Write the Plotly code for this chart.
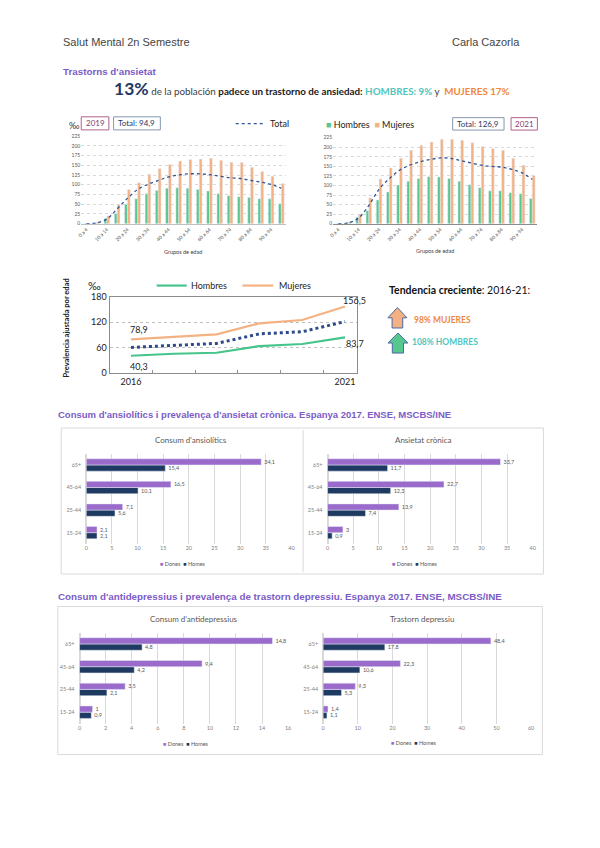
import plotly.graph_objects as go

W, H = 600, 848
# the photographed page is slightly shrunk around its centre; compensate so that
# positions measured on the reference land where they were measured
AX, BX, AY, BY = 0.9855, 4.55, 0.984, 7.0
def px(x): return ((x - BX) / AX) / W
def py(y): return 1 - ((y - BY) / AY) / H
def dom_x(a, b): return [px(a), px(b)]
def dom_y(top, bottom): return [py(bottom), py(top)]

# ---------------- DATA ----------------
age_groups = ["0 a 4", "5 a 9", "10 a 14", "15 a 19", "20 a 24", "25 a 29", "30 a 34",
              "35 a 39", "40 a 44", "45 a 49", "50 a 54", "55 a 59", "60 a 64", "65 a 69",
              "70 a 74", "75 a 79", "80 a 84", "85 a 89", "90 a 94", "95 y más"]
age_tick_labels = age_groups[::2]

hombres_2019 = [0.5, 2, 13, 26, 50, 64, 77, 85, 91, 92, 91, 88, 84, 77, 72, 69, 67, 64, 64, 51]
mujeres_2019 = [0.5, 4, 20, 50, 88, 105, 127, 142, 152, 161, 165, 166, 168, 163, 158, 157, 145, 134, 122, 103]
total_2019 = [0, 2, 12, 38, 65, 88, 101, 111, 120, 125, 128, 128, 126, 122, 118, 116, 111, 107, 101, 91]

hombres_2021 = [0.5, 3, 17, 34, 62, 83, 101, 111, 118, 123, 122, 118, 111, 102, 94, 86, 86, 81, 78, 66]
mujeres_2021 = [0.5, 5, 25, 68, 117, 146, 171, 192, 205, 214, 221, 221, 218, 212, 202, 197, 192, 171, 153, 126]
total_2021 = [0, 2, 15, 48, 90, 118, 140, 153, 162, 168, 172, 171, 165, 159, 153, 150, 148, 142, 133, 116]

years = [2016, 2017, 2018, 2019, 2020, 2021]
hombres_trend = [40.3, 45, 47.4, 63, 68, 83.7]
mujeres_trend = [78.9, 85, 90.8, 116.8, 124.7, 156.5]
total_trend = [60, 65.5, 69.5, 92, 97, 121]

ages_b = ["15-24", "25-44", "45-64", "65+"]
ansio_dones = [2.1, 7.1, 16.5, 34.1]
ansio_homes = [2.1, 5.6, 10.1, 15.4]
ansietat_dones = [3, 13.9, 22.7, 33.7]
ansietat_homes = [0.9, 7.4, 12.3, 11.7]
antidep_dones = [1, 3.5, 9.4, 14.8]
antidep_homes = [0.9, 2.1, 4.2, 4.8]
depre_dones = [1.4, 9.3, 22.3, 48.4]
depre_homes = [1.1, 5.3, 10.6, 17.8]

def fmt(v):
    if float(v).is_integer():
        return str(int(v))
    return f"{v:.1f}".replace(".", ",")

# ---------------- STYLE ----------------
GREEN = "#57c68f"
ORANGE = "#f4b183"
NAVY = "#2f5597"
DONES = "#9b6bcc"
HOMES = "#1f3a60"
PURPLE_T = "#7b5cc6"
GRID = "#d9d9d9"
FONT = "Lato"

fig = go.Figure()

# ---------------- TOP BAR CHARTS ----------------
top = [
    (hombres_2019, mujeres_2019, total_2019, "x", "y"),
    (hombres_2021, mujeres_2021, total_2021, "x2", "y2"),
]
for h, m, t, xa, ya in top:
    fig.add_trace(go.Bar(x=age_groups, y=h, marker_color=GREEN, xaxis=xa, yaxis=ya,
                         showlegend=False, name="Hombres"))
    fig.add_trace(go.Bar(x=age_groups, y=m, marker_color=ORANGE, xaxis=xa, yaxis=ya,
                         showlegend=False, name="Mujeres"))
    fig.add_trace(go.Scatter(x=age_groups, y=t, mode="lines", xaxis=xa, yaxis=ya,
                             line=dict(color=NAVY, dash="dot", width=1.3, shape="spline"),
                             showlegend=False, name="Total"))

# ---------------- TREND LINE CHART ----------------
fig.add_trace(go.Scatter(x=years, y=mujeres_trend, mode="lines", xaxis="x3", yaxis="y3",
                         line=dict(color=ORANGE, width=2.2), showlegend=False))
fig.add_trace(go.Scatter(x=years, y=total_trend, mode="lines", xaxis="x3", yaxis="y3",
                         line=dict(color="#2e4a8c", width=3, dash="dot"), showlegend=False))
fig.add_trace(go.Scatter(x=years, y=hombres_trend, mode="lines", xaxis="x3", yaxis="y3",
                         line=dict(color="#45c48c", width=2.2), showlegend=False))

# ---------------- HORIZONTAL BAR CHARTS ----------------
hb = [
    (ansio_homes, ansio_dones, "x4", "y4"),
    (ansietat_homes, ansietat_dones, "x5", "y5"),
    (antidep_homes, antidep_dones, "x6", "y6"),
    (depre_homes, depre_dones, "x7", "y7"),
]
for hm, dn, xa, ya in hb:
    for vals, col, nm in [(hm, HOMES, "Homes"), (dn, DONES, "Dones")]:
        fig.add_trace(go.Bar(y=ages_b, x=vals, orientation="h", marker_color=col,
                             xaxis=xa, yaxis=ya, name=nm, showlegend=False,
                             text=[fmt(v) for v in vals], textposition="outside",
                             constraintext="none", cliponaxis=False,
                             textfont=dict(size=5.5, color="#595959", family=FONT)))

# ---------------- AXES ----------------
tick_small = dict(size=5, color="#595959", family=FONT)
lay = dict(
    width=W, height=H, margin=dict(l=0, r=0, t=0, b=0),
    paper_bgcolor="white", plot_bgcolor="rgba(0,0,0,0)",
    barmode="group", bargap=0.45, bargroupgap=0.0,
    font=dict(family=FONT, color="#333"),
)
for i, (xd, yd, lc) in enumerate([((81.7, 286.7), (136.7, 224), "#bfbfbf"),
                                  ((333.3, 537.3), (138.3, 224), "#8c8c8c")]):
    s = "" if i == 0 else "2"
    lay["xaxis" + s] = dict(domain=dom_x(*xd), anchor="y" + s, type="category",
                            categoryorder="array", categoryarray=age_groups,
                            tickmode="array", tickvals=age_tick_labels, ticktext=age_tick_labels,
                            tickangle=-45, tickfont=tick_small, showgrid=False,
                            showline=True, linecolor=lc, ticks="")
    lay["yaxis" + s] = dict(domain=dom_y(*yd), anchor="x" + s, range=[0, 225],
                            tickvals=list(range(0, 226, 25)), tickfont=tick_small,
                            showgrid=True, gridcolor=GRID, griddash="dot", zeroline=False,
                            showline=False, ticks="")

lay["xaxis3"] = dict(domain=dom_x(110, 356.7), anchor="y3", range=[2015.5, 2021.27],
                     tickmode="array", tickvals=[2016, 2021], ticktext=["2016", "2021"],
                     tickfont=dict(size=9, color="#222", family=FONT), showgrid=False,
                     showline=True, linecolor="#8c8c8c", mirror=True, ticks="",
                     minor=dict(tickmode="array", tickvals=[2016.5, 2017.5, 2018.5, 2019.5, 2020.5],
                                ticks="inside", ticklen=3, tickcolor="#8c8c8c", showgrid=False),
                     zeroline=False)
lay["yaxis3"] = dict(domain=dom_y(296.7, 372.7), anchor="x3", range=[0, 180],
                     tickvals=[0, 60, 120, 180], tickfont=dict(size=9, color="#222", family=FONT),
                     showgrid=True, gridcolor="#bfbfbf", griddash="dot", zeroline=False,
                     showline=True, linecolor="#8c8c8c", mirror=True, ticks="")

hb_axes = [
    ((86.7, 291.7), (453.3, 543.3), [0, 40], 5),
    ((327.7, 532.7), (453.3, 543.3), [0, 40], 5),
    ((80, 288.3), (631.7, 722.3), [0, 16], 2),
    ((323.3, 531), (631.7, 722.3), [0, 60], 10),
]
for k, (xd, yd, rng, dt) in enumerate(hb_axes):
    s = str(k + 4)
    lay["xaxis" + s] = dict(domain=dom_x(*xd), anchor="y" + s, range=rng, dtick=dt,
                            tickfont=dict(size=5.5, color="#7f7f7f", family=FONT),
                            showgrid=True, gridcolor=GRID, gridwidth=1, zeroline=True,
                            zerolinecolor=GRID, showline=False, ticks="")
    lay["yaxis" + s] = dict(domain=dom_y(*yd), anchor="x" + s, type="category",
                            categoryorder="array", categoryarray=ages_b, range=[-0.5, 3.5],
                            tickfont=dict(size=5.5, color="#7f7f7f", family=FONT),
                            showgrid=False, zeroline=False, showline=False, ticks="",
                            ticklabelstandoff=4)
fig.update_layout(**lay)

# ---------------- TEXT ----------------
ann = []
def text(x, y, t, size=9, color="#333", family=FONT, xanchor="left", yanchor="middle", **kw):
    ann.append(dict(x=px(x), y=py(y), xref="paper", yref="paper", text=t, showarrow=False,
                    xanchor=xanchor, yanchor=yanchor, borderpad=0,
                    font=dict(size=size, color=color, family=family), **kw))

AR = "Liberation Sans"
text(62, 43, "Salut Mental 2n Semestre", size=11, color="#444", family=AR)
text(521, 43, "Carla Cazorla", size=11, color="#444", family=AR, xanchor="right")
text(62, 72, "<b>Trastorns d'ansietat</b>", size=9.8, color=PURPLE_T, family=AR)
text(312, 89,
     "<span style='font-size:17.5px;color:#1f3864'><b>13%</b></span> "
     "<span style='color:#404040'>de la población </span>"
     "<b>padece un trastorno de ansiedad:</b> "
     "<span style='color:#4fc6c0'><b>HOMBRES: 9%</b></span> "
     "<span style='color:#404040'>y </span> "
     "<span style='color:#f0883c'><b>MUJERES 17%</b></span>",
     size=9.8, color="#1a1a1a", xanchor="center")

# top chart labels
text(74.5, 126, "‰", size=9, color="#333", xanchor="center")
text(95.5, 124, "2019", size=8, color="#8a3a6a", xanchor="center")
text(137.3, 124, "Total: 94,9", size=8, color="#1f3864", xanchor="center")
text(269, 124.3, "Total", size=9, color="#222")
text(183, 252.5, "Grupos de edad", size=5.5, color="#404040", xanchor="center")
text(325, 125, "<span style='color:%s'>■</span> Hombres  <span style='color:%s'>■</span> Mujeres"
     % (GREEN, ORANGE), size=9, color="#222")
text(478.3, 124.5, "Total: 126,9", size=8, color="#1f3864", xanchor="center")
text(524.2, 124.5, "2021", size=8, color="#8a3a6a", xanchor="center")
text(435, 251, "Grupos de edad", size=5.5, color="#404040", xanchor="center")

# trend chart labels
text(67, 328, "<b>Prevalencia ajustada por edad</b>", size=7.5, color="#222",
     xanchor="center", textangle=-90)
text(94.5, 285.7, "‰", size=11, color="#222", xanchor="center")
text(190.7, 285.7, "Hombres", size=9, color="#222")
text(278, 285.7, "Mujeres", size=9, color="#222")
for xv, yv, xs, ys in [(years[0], mujeres_trend[0], 8, 10), (years[-1], mujeres_trend[-1], 9, 6),
                       (years[0], hombres_trend[0], 8, -11), (years[-1], hombres_trend[-1], 10, -6)]:
    ann.append(dict(x=xv, y=yv, xref="x3", yref="y3", text=fmt(yv), showarrow=False,
                    xshift=xs, yshift=ys, font=dict(size=9, color="#222", family=FONT)))
text(388, 290, "<b>Tendencia creciente</b>: 2016-21:", size=10.5, color="#111")
text(413, 320.5, "<b>98% MUJERES</b>", size=8.5, color="#ee8a40")
text(411.5, 342, "<b>108% HOMBRES</b>", size=8.5, color="#4fc6c0")

# section titles
text(57.5, 414.5, "<b>Consum d'ansiolítics i prevalença d'ansietat crònica. Espanya 2017. ENSE, MSCBS/INE</b>",
     size=9.5, color=PURPLE_T, family=AR)
text(57.5, 596, "<b>Consum d'antidepressius i prevalença de trastorn depressiu. Espanya 2017. ENSE, MSCBS/INE</b>",
     size=9.8, color=PURPLE_T, family=AR)

leg = "<span style='color:%s'>■</span> Dones  <span style='color:%s'>■</span> Homes" % (DONES, HOMES)
for cx, ty, t, ly in [(191, 440, "Consum d'ansiolítics", 563), (423.3, 440, "Ansietat crònica", 563),
                      (194.3, 618.3, "Consum d'antidepressius", 743), (421.7, 618.3, "Trastorn depressiu", 742)]:
    text(cx, ty, t, size=8, color="#595959", xanchor="center")
    text(cx - 8, ly, leg, size=5.5, color="#595959", xanchor="center")

fig.update_layout(annotations=ann)

# ---------------- SHAPES ----------------
shapes = []
def rect(x0, y0, x1, y1, color, width=1, fill=None):
    shapes.append(dict(type="rect", xref="paper", yref="paper", x0=px(x0), x1=px(x1),
                       y0=py(y1), y1=py(y0), line=dict(color=color, width=width),
                       fillcolor=fill or "rgba(0,0,0,0)", layer="below"))
def line(x0, y0, x1, y1, color, width=1, dash=None):
    shapes.append(dict(type="line", xref="paper", yref="paper", x0=px(x0), x1=px(x1),
                       y0=py(y0), y1=py(y1), line=dict(color=color, width=width, dash=dash)))

rect(81.7, 117.5, 109.3, 130.5, "#b0608a")
rect(114, 117.5, 160.7, 130.5, "#8497b0")
line(236, 124.3, 264, 124.3, NAVY, 1.3, "dot")
rect(452.7, 118.3, 504, 130.7, "#8497b0")
rect(511, 118.3, 537.3, 130.7, "#b0608a")
line(157, 285.7, 187, 285.7, "#45c48c", 2.2)
line(242.7, 285.7, 273.3, 285.7, ORANGE, 2.2)

def arrow(x0, x1, ytop, ybot, fill):
    xm = (x0 + x1) / 2
    yh = ytop + (ybot - ytop) * 0.5
    sw = (x1 - x0) * 0.28
    pts = [(xm, ytop), (x1, yh), (xm + sw, yh), (xm + sw, ybot), (xm - sw, ybot), (xm - sw, yh), (x0, yh)]
    path = "M " + " L ".join(f"{px(a):.5f},{py(b):.5f}" for a, b in pts) + " Z"
    shapes.append(dict(type="path", xref="paper", yref="paper", path=path,
                       fillcolor=fill, line=dict(color="#4a6aa5", width=1)))
arrow(388, 407, 307.7, 328, ORANGE)
arrow(388, 408, 333, 353, "#57c68f")

rect(61.7, 427.7, 543.3, 573.3, "#d9d9d9")
line(303.3, 430, 303.3, 571, "#d9d9d9")
rect(58.3, 605.7, 542.3, 753.3, "#d9d9d9")

fig.update_layout(shapes=shapes)
post = ("document.documentElement.style.margin='0';document.documentElement.style.overflow='hidden';"
        "document.body.style.margin='0';document.body.style.padding='0';document.body.style.overflow='hidden';"
        "var d=document.getElementById('{plot_id}');d.style.position='fixed';d.style.left='0px';d.style.top='0px';")
fig.write_html("out.html", config={"displayModeBar": False}, post_script=post)
